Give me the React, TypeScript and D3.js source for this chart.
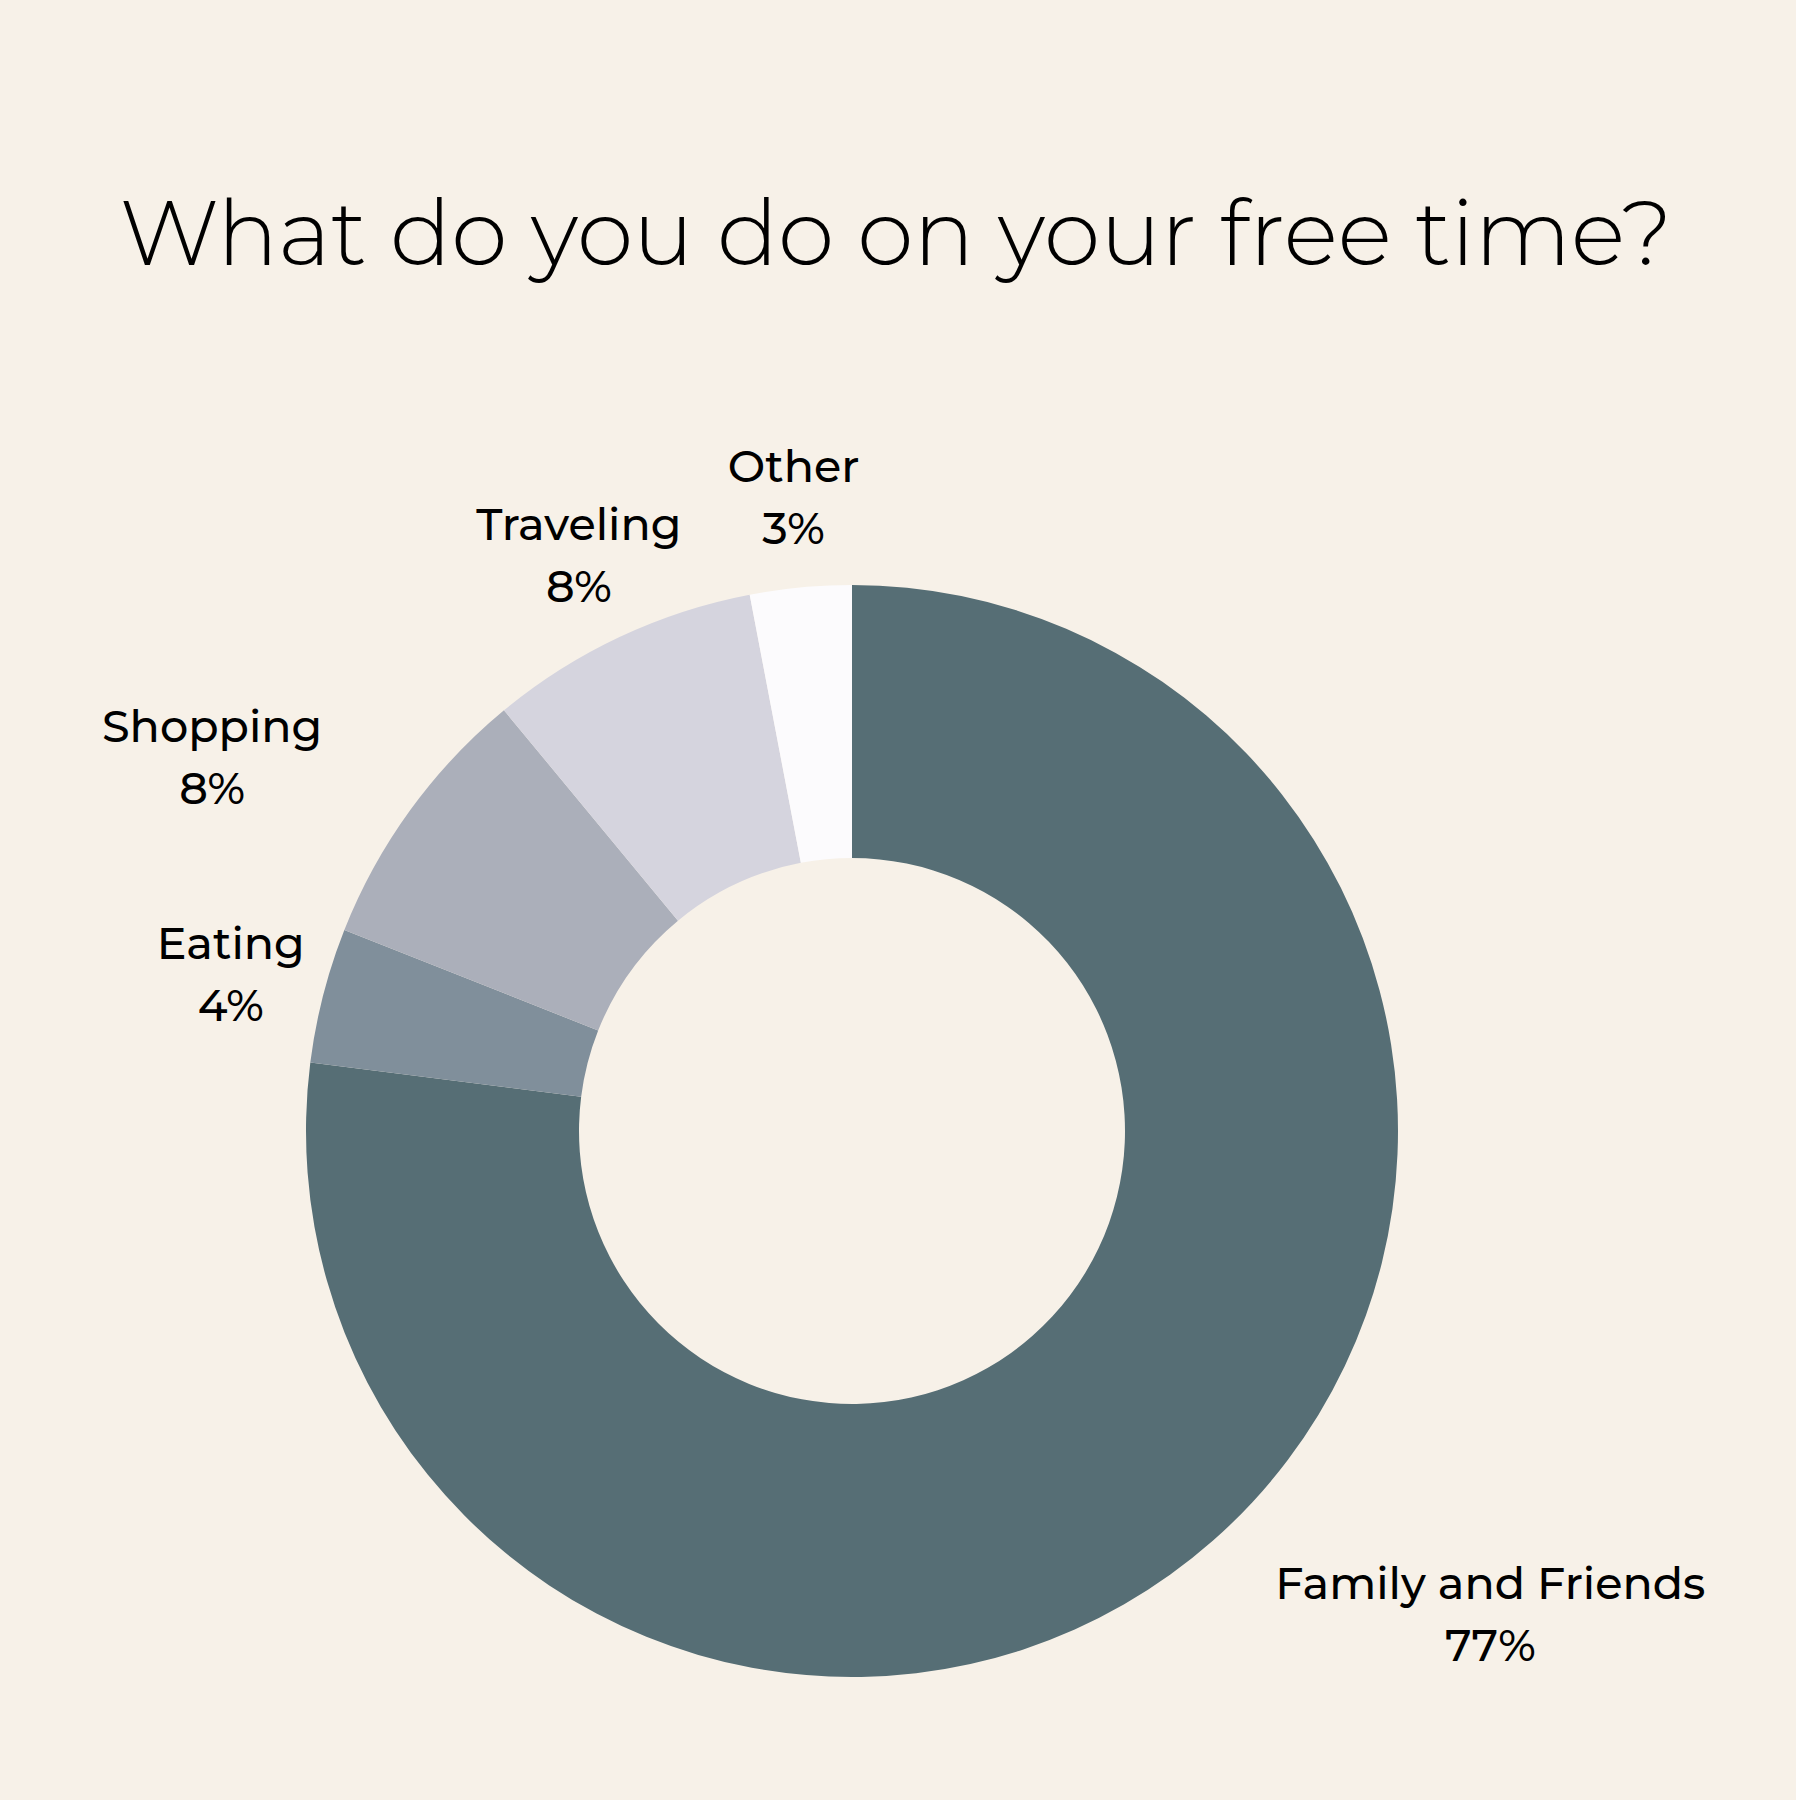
import React from 'react';
import * as d3 from 'd3';

// data, clockwise from 12 o'clock
const categories = ['Family and Friends', 'Eating', 'Shopping', 'Traveling', 'Other'];
const shares = [77, 4, 8, 8, 3];
const sliceColors = ['#566e75', '#808f9b', '#abafba', '#d5d4de', '#fcfbfd'];

// label placement: angle shift (deg) from slice middle and distance from centre
const labelAngleShift = [-10.6, -1.6, -6.8, -0.8, 0];
const labelRadius = [810, 637, 733, 623, 621];

const W = 1796;
const H = 1800;
const cx = 852;
const cy = 1131;
const outerR = 546;
const innerR = 273;

const App = () => {
  const pie = d3.pie<number>().sort(null).value(d => d);
  const arcs = pie(shares);
  const arc = d3.arc<d3.PieArcDatum<number>>().innerRadius(innerR).outerRadius(outerR);

  const font = "Montserrat, 'Noto Sans', sans-serif";

  return (
    <svg width={W} height={H} style={{ display: 'block', position: 'absolute', left: 0, top: 0 }}>
      <rect width={W} height={H} fill="#f7f1e8" />
      <text x={896} y={265} textAnchor="middle" fontFamily={font} fontSize={90.5} fontWeight={300} fill="#000">
        What do you do on your free time?
      </text>
      <g transform={`translate(${cx},${cy})`}>
        {arcs.map((a, i) => (
          <path key={categories[i]} d={arc(a) || ''} fill={sliceColors[i]} />
        ))}
        {arcs.map((a, i) => {
          const mid = (a.startAngle + a.endAngle) / 2 + (labelAngleShift[i] * Math.PI) / 180;
          const x = Math.sin(mid) * labelRadius[i];
          const y = -Math.cos(mid) * labelRadius[i];
          return (
            <text key={'l' + i} x={x} y={y} textAnchor="middle" fontFamily={font} fontSize={44.5} fontWeight={500} fill="#000">
              <tspan x={x} dy={-31}>{categories[i]}</tspan>
              <tspan x={x} dy={62}>{`${shares[i]}%`}</tspan>
            </text>
          );
        })}
      </g>
    </svg>
  );
};

export default App;
